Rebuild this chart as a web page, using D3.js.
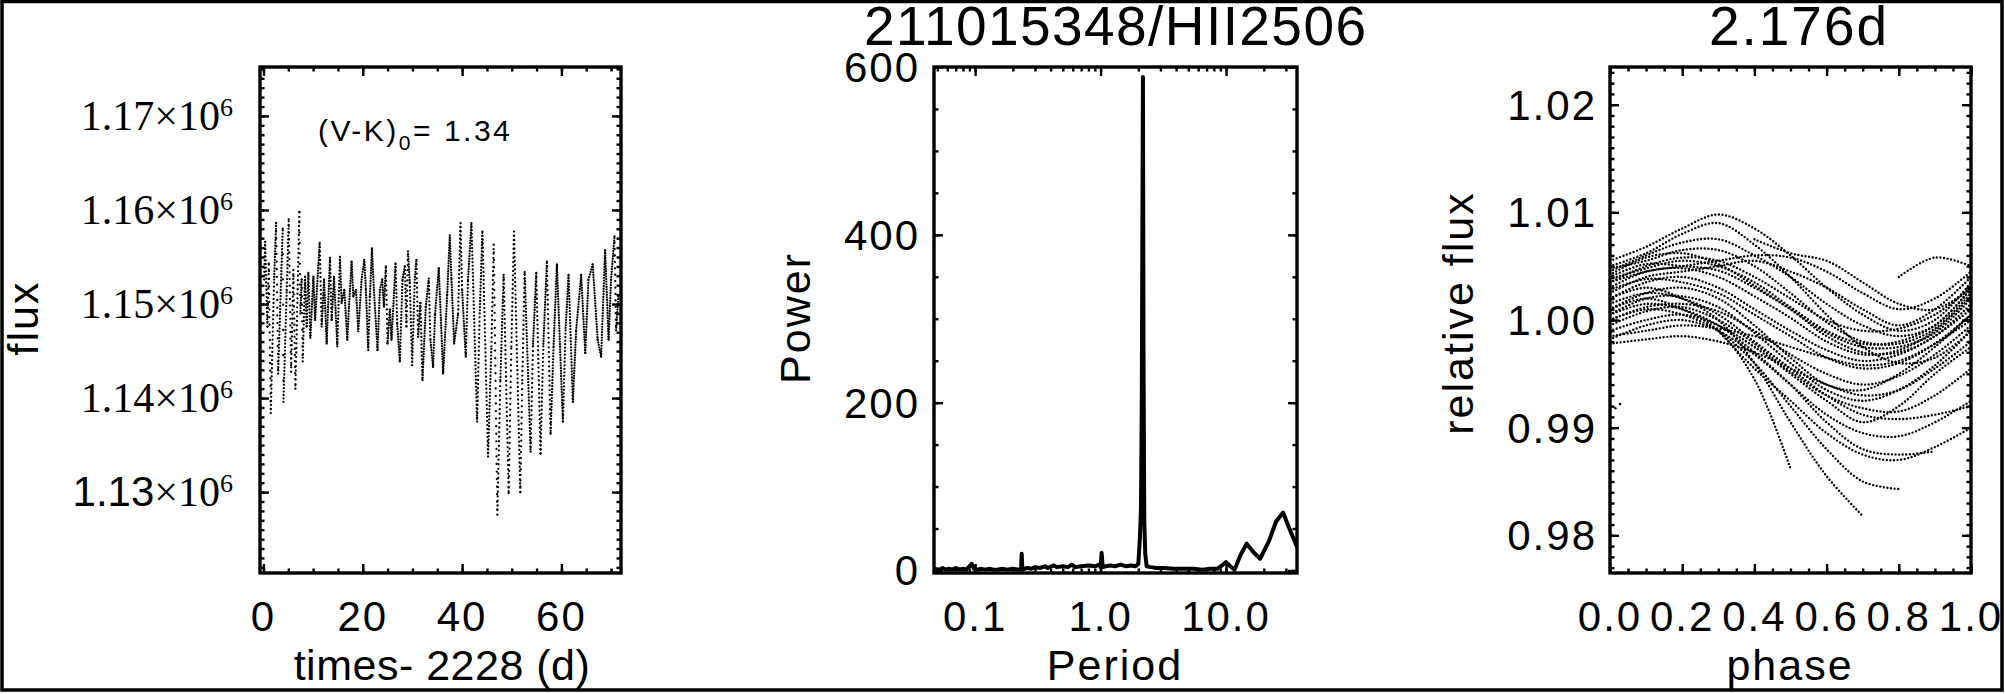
<!DOCTYPE html>
<html>
<head>
<meta charset="utf-8">
<script src="https://cdn.jsdelivr.net/npm/d3@7"></script>
<style>
body { margin: 0; background: #fff; }
svg text { font-family: "Liberation Sans", Arial, sans-serif; fill: #000; }
</style>
</head>
<body>
<svg id="chart" width="2005" height="694"></svg>
<script>
// light curve: time - 2228 (d), flux in units of 1000
var lcTime = [0.13, 0.33, 0.80, 1.07, 1.47, 2.14, 2.55, 2.95, 3.48, 3.88, 4.02, 4.69, 5.09, 5.56, 6.03, 6.43,
	7.23, 7.43, 7.70, 7.90, 8.37, 8.70, 9.04, 9.44, 10.05, 10.40, 11.32, 11.72, 12.20, 12.73, 13.40, 13.73,
	14.20, 14.87, 15.40, 15.74, 16.28, 16.88, 17.22, 17.75, 18.09, 18.63, 19.09, 19.76, 20.30, 20.63, 21.10,
	21.43, 21.84, 22.24, 22.97, 23.44, 23.91, 24.25, 24.65, 24.98, 25.45, 25.79, 26.60, 26.93, 27.46, 28.00,
	28.47, 28.80, 29.10, 29.47, 29.94, 30.47, 30.80, 31.14, 31.60, 32.02, 32.69, 33.29, 33.62, 34.16, 34.56,
	35.30, 36.18, 37.00, 37.52, 37.86, 38.40, 39.20, 39.67, 40.00, 40.74, 41.20, 41.88, 43.02, 43.55, 44.09,
	45.23, 45.90, 46.37, 47.10, 47.70, 48.37, 49.38, 49.92, 50.45, 51.72, 52.12, 52.60, 53.80, 54.27, 54.94,
	55.80, 56.35, 57.08, 57.82, 58.42, 59.09, 60.30, 60.83, 61.44, 62.30, 62.97, 63.98, 64.80, 65.45, 66.30,
	67.30, 68.00, 68.80, 69.50, 70.00, 70.70, 71.00, 71.50];
var lcFlux = [1152.6, 1156.6, 1147.6, 1154.3, 1138.4, 1152.6, 1158.6, 1142.6, 1151.5, 1158.0, 1139.6, 1151.5, 1159.0, 1142.8, 1153.6, 1141.0,
	1159.8, 1149.0, 1152.6, 1143.9, 1152.9, 1147.6, 1153.3, 1146.4, 1152.9, 1148.3, 1156.5, 1147.6, 1152.6, 1145.8, 1154.9, 1148.3,
	1152.9, 1145.5, 1155.0, 1150.1, 1151.5, 1146.2, 1149.7, 1154.5, 1150.8, 1151.5, 1147.1, 1152.6, 1154.7, 1151.5, 1145.1,
	1150.8, 1155.9, 1151.5, 1145.1, 1151.5, 1152.6, 1149.7, 1154.0, 1145.8, 1149.4, 1146.2, 1154.3, 1147.9, 1143.9, 1152.6,
	1154.0, 1147.6, 1155.6, 1152.2, 1143.5, 1152.6, 1154.7, 1146.5, 1150.1, 1141.9, 1149.7, 1152.7, 1146.2, 1143.3, 1149.0,
	1153.8, 1142.6, 1151.0, 1157.3, 1152.6, 1145.8, 1149.0, 1158.6, 1151.5, 1144.4, 1152.6, 1158.6, 1137.5, 1149.0, 1157.7,
	1133.8, 1145.5, 1156.3, 1127.6, 1141.9, 1153.1, 1129.9, 1145.5, 1157.7, 1130.0, 1141.9, 1153.4, 1134.3, 1145.5, 1153.3,
	1134.1, 1145.5, 1154.5, 1136.2, 1145.5, 1154.2, 1137.5, 1147.2, 1153.1, 1139.6, 1147.2, 1153.1, 1144.8, 1152.6, 1154.2,
	1146.2, 1144.4, 1155.7, 1146.2, 1152.6, 1157.2, 1147.2, 1151.0];

// periodogram, middle panel
var pgPeriod = [0.047, 0.052, 0.055, 0.058, 0.062, 0.066, 0.070, 0.075, 0.080, 0.085, 0.090, 0.094, 0.098, 0.105,
	0.110, 0.120, 0.130, 0.140, 0.150, 0.165, 0.180, 0.200, 0.225, 0.232, 0.235, 0.238, 0.260, 0.280, 0.300, 0.330,
	0.360, 0.380, 0.420, 0.450, 0.500, 0.550, 0.590, 0.630, 0.700, 0.800, 0.900, 0.980, 1.00, 1.02, 1.04, 1.10, 1.20,
	1.30, 1.45, 1.60, 1.75, 1.90, 2.00, 2.06, 2.10, 2.13, 2.176, 2.20, 2.23, 2.27, 2.33, 2.50, 2.80, 3.20, 3.80, 4.50,
	5.50, 6.50, 7.50, 8.50, 9.30, 10.0, 10.8, 11.7, 13.0, 14.6, 16.5, 18.7, 22.0, 25.0, 28.5, 31.0, 34.5, 36.8];
var pgPower = [2, 1, 3, 1, 2, 1, 3, 1, 2, 1, 5, 8, 2, 1,
	2, 1, 2, 1, 1, 2, 1, 2, 1, 1, 20, 1, 3, 2, 4, 3,
	5, 3, 6, 4, 5, 4, 7, 4, 5, 6, 5, 7, 4, 21, 4, 5, 6,
	5, 7, 5, 6, 5, 8, 40, 75, 200, 588, 250, 60, 20, 5, 4, 3, 3, 2, 2,
	2, 1, 2, 2, 6, 10, 5, 1, 18, 32, 22, 14, 35, 58, 69, 55, 38, 28];

// folded light curve, right panel: one row per cycle, sampled on phaseGrid
var phaseGrid = [0, 0.1, 0.2, 0.3, 0.4, 0.5, 0.6, 0.7, 0.8, 0.9, 1.0];
var phaseCurves = [
	[1.0030, 1.0045, 1.0048, 1.0040, 1.0022, 1.0002, 0.9980, 0.9968, 0.9972, 0.9990, 1.0022],
	[1.0040, 1.0052, 1.0050, 1.0046, 1.0030, 1.0010, 0.9985, 0.9970, 0.9970, 0.9985, 1.0015],
	[1.0020, 1.0035, 1.0040, 1.0030, 1.0010, 0.9990, 0.9972, 0.9962, 0.9968, 0.9985, 1.0010],
	[1.0045, 1.0060, 1.0072, 1.0075, 1.0060, 1.0040, 1.0015, 0.9995, 0.9985, 0.9995, 1.0030],
	[1.0055, 1.0068, 1.0085, 1.0098, 1.0085, 1.0060, 1.0030, 1.0005, 0.9990, 1.0000, 1.0035],
	[1.0050, 1.0062, 1.0080, 1.0090, 1.0070, 1.0040, 1.0005, 0.9975, 0.9960, 0.9965, 0.9990],
	[1.0035, 1.0045, 1.0050, 1.0055, 1.0060, 1.0058, 1.0045, 1.0025, 1.0010, 1.0020, 1.0045],
	[1.0025, 1.0040, 1.0045, 1.0050, 1.0055, 1.0045, 1.0030, 1.0010, 0.9995, 1.0010, 1.0040],
	[0.9985, 0.9990, 0.9995, 0.9992, 0.9985, 0.9975, 0.9965, 0.9958, 0.9962, 0.9978, 1.0000],
	[0.9978, 0.9982, 0.9985, 0.9980, 0.9970, 0.9955, 0.9940, 0.9930, 0.9935, 0.9955, 0.9980],
	[1.0020, 1.0030, 1.0020, 1.0000, 0.9960, 0.9905, 0.9855, 0.9818, null, null, null],
	[1.0010, 1.0020, 1.0010, 0.9990, 0.9945, 0.9862, null, null, null, null, null],
	[1.0000, 1.0010, 1.0005, 0.9990, 0.9960, 0.9920, 0.9880, 0.9850, 0.9843, null, null],
	[1.0005, 1.0015, 1.0010, 0.9995, 0.9970, 0.9940, 0.9905, 0.9880, 0.9875, 0.9878, null],
	[1.0015, 1.0025, 1.0020, 1.0005, 0.9980, 0.9955, 0.9930, 0.9912, 0.9908, 0.9912, 0.9920],
	[0.9990, 1.0000, 1.0005, 0.9995, 0.9975, 0.9950, 0.9925, 0.9905, 0.9920, 0.9950, 0.9975],
	[1.0010, 1.0025, 1.0030, 1.0020, 0.9995, 0.9965, 0.9940, 0.9935, 0.9950, 0.9975, 1.0005],
	[1.0035, 1.0050, 1.0058, 1.0055, 1.0040, 1.0020, 1.0000, 0.9990, 0.9992, 1.0005, 1.0030],
	[null, null, null, null, 1.0075, 1.0062, 1.0055, 1.0035, 1.0015, 1.0010, 1.0030],
	[null, null, null, null, null, null, null, null, 1.0040, 1.0058, 1.0050],
	[1.0000, 1.0012, 1.0015, 1.0008, 0.9990, 0.9968, 0.9950, 0.9940, 0.9948, 0.9968, 0.9995],
	[0.9995, 1.0008, 1.0012, 1.0000, 0.9978, 0.9952, 0.9930, 0.9918, 0.9915, 0.9930, 0.9955],
	[null, null, null, 0.9990, 0.9955, 0.9925, 0.9895, 0.9875, 0.9870, 0.9882, 0.9900],
	[1.0042, 1.0058, 1.0062, 1.0052, 1.0032, 1.0010, 0.9988, 0.9975, 0.9975, 0.9988, 1.0020],
	[1.0038, 1.0048, 1.0055, 1.0050, 1.0035, 1.0012, 0.9990, 0.9978, 0.9980, 0.9995, 1.0028],
	[1.0028, 1.0038, 1.0035, 1.0025, 1.0005, 0.9985, 0.9965, 0.9955, 0.9960, 0.9978, 1.0005],
	[1.0048, 1.0055, 1.0065, 1.0065, 1.0050, 1.0025, 0.9998, 0.9980, 0.9978, 0.9992, 1.0025],
	[1.0005, 1.0020, 1.0022, 1.0012, 0.9988, 0.9960, 0.9935, 0.9925, 0.9935, 0.9958, 0.9990],
	[0.9982, 0.9995, 1.0000, 0.9990, 0.9968, 0.9940, 0.9912, 0.9895, 0.9892, 0.9905, 0.9925]
];
var strayPhase = [0.015, 0.028];
var strayFlux = [0.9918, 0.9922];

// ticks and labels
var lcXTicks = [0, 20, 40, 60];
var lcYTicks = [1130, 1140, 1150, 1160, 1170];
var lcYLabels = ["1.13", "1.14", "1.15", "1.16", "1.17"];
var pgXTicks = [0.1, 1, 10];
var pgXLabels = ["0.1", "1.0", "10.0"];
var pgYTicks = [0, 200, 400, 600];
var phXTicks = [0, 0.2, 0.4, 0.6, 0.8, 1.0];
var phYTicks = [0.98, 0.99, 1.00, 1.01, 1.02];

var plotTop = 67, plotBottom = 573;
var svg = d3.select("#chart");

svg.append("rect")
	.attr("x", 2).attr("y", 1.5).attr("width", 2000).attr("height", 688.5)
	.attr("fill", "none").attr("stroke", "#000").attr("stroke-width", 3.5);

function tickSet(g, axis, tr, vals, len) {
	g.append("g")
		.attr("transform", tr)
		.call(axis.tickValues(vals).tickSize(-len).tickFormat(""))
		.call(function (s) {
			s.select(".domain").remove();
			s.selectAll("text").remove();
			s.selectAll("line").attr("stroke", "#000").attr("stroke-width", 2.4);
		});
}

function frame(x, y, xMajor, xMinor, yMajor, yMinor) {
	var x0 = x.range()[0], x1 = x.range()[1];
	var g = svg.append("g");
	tickSet(g, d3.axisBottom(x), "translate(0," + plotBottom + ")", xMinor, 4.5);
	tickSet(g, d3.axisBottom(x), "translate(0," + plotBottom + ")", xMajor, 9);
	tickSet(g, d3.axisTop(x), "translate(0," + plotTop + ")", xMinor, 4.5);
	tickSet(g, d3.axisTop(x), "translate(0," + plotTop + ")", xMajor, 9);
	tickSet(g, d3.axisLeft(y), "translate(" + x0 + ",0)", yMinor, 4.5);
	tickSet(g, d3.axisLeft(y), "translate(" + x0 + ",0)", yMajor, 9);
	tickSet(g, d3.axisRight(y), "translate(" + x1 + ",0)", yMinor, 4.5);
	tickSet(g, d3.axisRight(y), "translate(" + x1 + ",0)", yMajor, 9);
	g.append("rect")
		.attr("x", x0).attr("y", plotTop).attr("width", x1 - x0).attr("height", plotBottom - plotTop)
		.attr("fill", "none").attr("stroke", "#000").attr("stroke-width", 3.4);
}

function clip(id, x) {
	svg.append("clipPath").attr("id", id).append("rect")
		.attr("x", x.range()[0]).attr("y", plotTop)
		.attr("width", x.range()[1] - x.range()[0]).attr("height", plotBottom - plotTop);
}

function xLabels(x, vals, labels) {
	svg.append("g").selectAll("text")
		.data(vals)
		.enter().append("text")
		.attr("x", function (d) { return x(d); })
		.attr("y", 631)
		.attr("text-anchor", "middle")
		.attr("font-size", 42)
		.attr("letter-spacing", 2)
		.text(function (d, i) { return labels[i]; });
}

function yLabels(y, vals, labels, xEnd) {
	svg.append("g").selectAll("text")
		.data(vals)
		.enter().append("text")
		.attr("x", xEnd)
		.attr("y", function (d) { return y(d) + 15; })
		.attr("text-anchor", "end")
		.attr("font-size", 42)
		.attr("letter-spacing", 2)
		.text(function (d, i) { return labels[i]; });
}

function axisTitle(text, x, y, rotate, spacing) {
	svg.append("text")
		.attr("transform", "translate(" + x + "," + y + ")" + (rotate ? " rotate(-90)" : ""))
		.attr("text-anchor", "middle")
		.attr("font-size", 43)
		.attr("letter-spacing", spacing == null ? 2 : spacing)
		.text(text);
}

// ---- panel 1: light curve ----
var lcX = d3.scaleLinear().domain([-0.7, 72]).range([260, 621]);
var lcY = d3.scaleLinear().domain([1121.4, 1175.2]).range([plotBottom, plotTop]);
clip("clip1", lcX);

var lcSegs = d3.pairs(d3.range(lcTime.length));
svg.append("g").attr("clip-path", "url(#clip1)")
	.selectAll("path")
	.data(lcSegs)
	.enter().append("path")
	.attr("d", function (p) {
		return d3.line()([[lcX(lcTime[p[0]]), lcY(lcFlux[p[0]])], [lcX(lcTime[p[1]]), lcY(lcFlux[p[1]])]]);
	})
	.attr("fill", "none")
	.attr("stroke", "#000")
	.attr("stroke-width", 2.3)
	.attr("stroke-linecap", "round")
	.attr("stroke-dasharray", function (p) {
		// one dot per 29.4 min cadence along the segment
		var dx = lcX(lcTime[p[1]]) - lcX(lcTime[p[0]]);
		var dy = lcY(lcFlux[p[1]]) - lcY(lcFlux[p[0]]);
		var n = (lcTime[p[1]] - lcTime[p[0]]) * 48.9;
		return "0," + Math.max(2.6, Math.sqrt(dx * dx + dy * dy) / n).toFixed(2);
	});

frame(lcX, lcY, lcXTicks, d3.range(0, 75, 5), lcYTicks, d3.range(1122, 1176, 1));
xLabels(lcX, lcXTicks, lcXTicks.map(String));

var lcLab = svg.append("g").selectAll("text")
	.data(lcYTicks)
	.enter().append("text")
	.attr("x", 233)
	.attr("y", function (d) { return lcY(d) + 14; })
	.attr("text-anchor", "end")
	.style("font-family", "'Liberation Serif', 'Times New Roman', serif")
	.attr("font-size", 42);
lcLab.append("tspan")
	.style("font-family", function (d, i) { return i == 0 ? "'Liberation Sans', Arial, sans-serif" : null; })
	.text(function (d, i) { return lcYLabels[i]; });
lcLab.append("tspan").text("\u00d710");
lcLab.append("tspan").attr("font-size", 26).attr("dy", -14).text("6");

axisTitle("flux", 38, 318, true);
axisTitle("times- 2228 (d)", 442, 680, false, 0.5);

var vk = svg.append("text").attr("x", 318).attr("y", 141).attr("font-size", 30).attr("letter-spacing", 2.5);
vk.append("tspan").text("(V-K)");
vk.append("tspan").attr("font-size", 21).attr("dy", 9).text("0");
vk.append("tspan").attr("dy", -9).text("= 1.34");

// ---- panel 2: periodogram ----
var pgX = d3.scaleLog().domain([0.047, 36.8]).range([934, 1297]);
var pgY = d3.scaleLinear().domain([-3, 600]).range([plotBottom, plotTop]);
clip("clip2", pgX);

svg.append("path")
	.datum(d3.range(pgPeriod.length))
	.attr("clip-path", "url(#clip2)")
	.attr("d", d3.line()
		.x(function (i) { return pgX(pgPeriod[i]); })
		.y(function (i) { return pgY(pgPower[i]); }))
	.attr("fill", "none")
	.attr("stroke", "#000")
	.attr("stroke-width", 4)
	.attr("stroke-linejoin", "round");

frame(pgX, pgY, pgXTicks, pgX.ticks(), pgYTicks, d3.range(0, 601, 50));
xLabels(pgX, pgXTicks, pgXLabels);
yLabels(pgY, pgYTicks, pgYTicks.map(String), 920);
axisTitle("Power", 810, 318, true);
axisTitle("Period", 1115, 680, false);

svg.append("text")
	.attr("x", 1115).attr("y", 45)
	.attr("text-anchor", "middle")
	.attr("font-size", 55)
	.attr("textLength", 502)
	.attr("lengthAdjust", "spacing")
	.text("211015348/HII2506");

// ---- panel 3: phased light curve ----
var phX = d3.scaleLinear().domain([0, 1]).range([1610, 1971]);
var phY = d3.scaleLinear().domain([0.9765, 1.0235]).range([plotBottom, plotTop]);
clip("clip3", phX);

var phLine = d3.line()
	.defined(function (d) { return d != null; })
	.x(function (d, i) { return phX(phaseGrid[i]); })
	.y(function (d) { return phY(d); })
	.curve(d3.curveCatmullRom);

var ph = svg.append("g").attr("clip-path", "url(#clip3)");
ph.selectAll("path")
	.data(phaseCurves)
	.enter().append("path")
	.attr("d", phLine)
	.attr("fill", "none")
	.attr("stroke", "#000")
	.attr("stroke-width", 2.4)
	.attr("stroke-linecap", "round")
	.attr("stroke-dasharray", "0,3.6");
ph.selectAll("circle")
	.data(strayPhase)
	.enter().append("circle")
	.attr("cx", function (d) { return phX(d); })
	.attr("cy", function (d, i) { return phY(strayFlux[i]); })
	.attr("r", 1.2);

frame(phX, phY, phXTicks, d3.range(0, 21).map(function (v) { return v / 20; }),
	phYTicks, d3.range(977, 1024).map(function (v) { return v / 1000; }));
xLabels(phX, phXTicks, phXTicks.map(d3.format(".1f")));
yLabels(phY, phYTicks, phYTicks.map(d3.format(".2f")), 1597);
axisTitle("relative flux", 1473, 313, true);
axisTitle("phase", 1790, 680, false);

svg.append("text")
	.attr("x", 1799).attr("y", 45)
	.attr("text-anchor", "middle")
	.attr("font-size", 55)
	.attr("letter-spacing", 2)
	.text("2.176d");
</script>
</body>
</html>
